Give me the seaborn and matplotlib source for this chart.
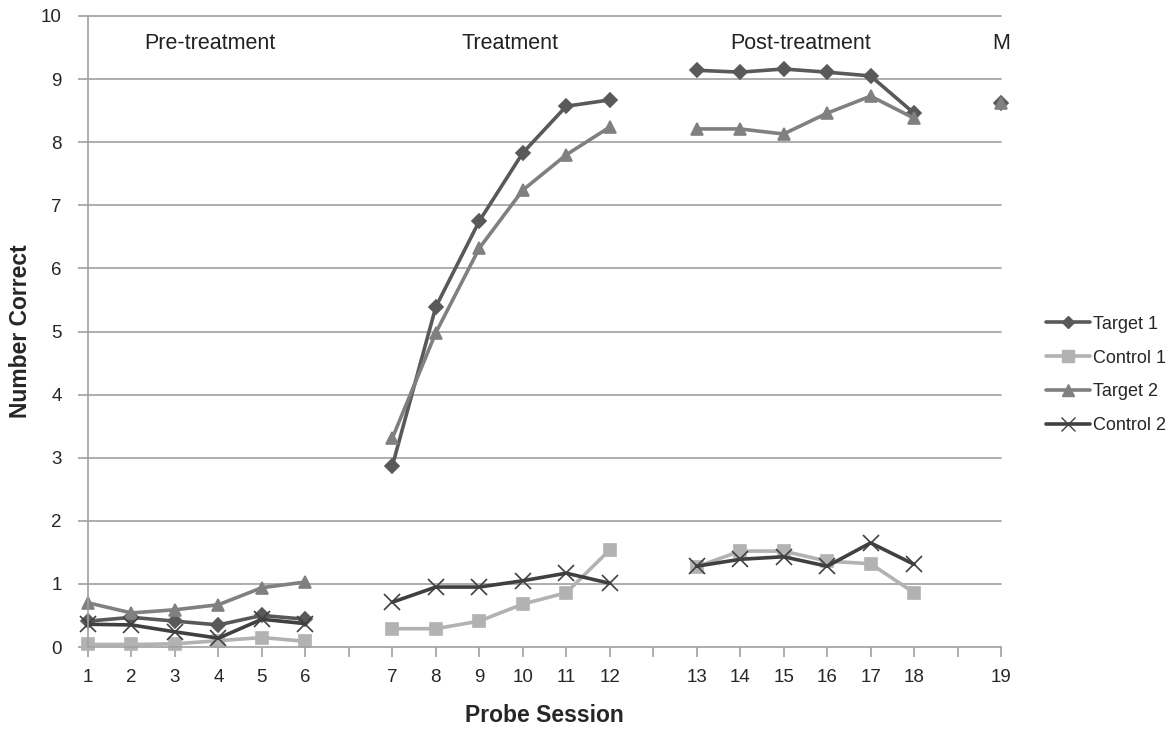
import numpy as np
import pandas as pd
import seaborn as sns
from matplotlib import pyplot as plt

# Probe sessions and phases (one empty slot between phases)
sessions = list(range(1, 20))
phases = ['Pre'] * 6 + ['Tx'] * 6 + ['Post'] * 6 + ['Maint']
phase_labels = ['Pre-treatment', 'Treatment', 'Post-treatment', 'M']

target_1 = [0.41, 0.47, 0.41, 0.35, 0.50, 0.44,
            2.87, 5.39, 6.75, 7.83, 8.57, 8.67,
            9.14, 9.11, 9.16, 9.11, 9.05, 8.46,
            8.62]
control_1 = [0.04, 0.04, 0.05, 0.10, 0.15, 0.09,
             0.29, 0.29, 0.41, 0.68, 0.86, 1.54,
             1.27, 1.52, 1.52, 1.36, 1.32, 0.86,
             np.nan]
target_2 = [0.70, 0.54, 0.59, 0.67, 0.94, 1.03,
            3.31, 4.98, 6.32, 7.24, 7.80, 8.24,
            8.21, 8.21, 8.13, 8.46, 8.73, 8.38,
            8.62]
control_2 = [0.36, 0.35, 0.24, 0.14, 0.44, 0.37,
             0.71, 0.95, 0.95, 1.05, 1.17, 1.01,
             1.28, 1.39, 1.43, 1.28, 1.65, 1.31,
             np.nan]

series = {'Target 1': target_1, 'Control 1': control_1,
          'Target 2': target_2, 'Control 2': control_2}
colors = {'Target 1': '#595959', 'Control 1': '#b2b2b2',
          'Target 2': '#808080', 'Control 2': '#404040'}
markers = {'Target 1': 'D', 'Control 1': 's', 'Target 2': '^', 'Control 2': 'x'}
msizes = {'Target 1': 7, 'Control 1': 9, 'Target 2': 9, 'Control 2': 11}

# category slot for each session (gaps after 6, 12 and 18)
phase_offset = {'Pre': 0, 'Tx': 1, 'Post': 2, 'Maint': 3}
slots = [s - 1 + phase_offset[p] for s, p in zip(sessions, phases)]

rows = []
for name, vals in series.items():
    for slot, ph, v in zip(slots, phases, vals):
        rows.append({'slot': slot, 'phase': ph, 'series': name, 'value': v})
df = pd.DataFrame(rows).dropna()

sns.set_style('white')
plt.rcParams['font.family'] = ['Liberation Sans', 'DejaVu Sans']

fig = plt.figure(figsize=(11.71, 7.31), dpi=100)
ax = fig.add_axes([88 / 1171, 1 - 647 / 731, (1001 - 88) / 1171, (647 - 16) / 731])

for y in range(1, 11):
    ax.axhline(y, color='#a0a0a0', lw=1.2, zorder=0)

for name in series:
    sub = df[df['series'] == name]
    sns.lineplot(data=sub, x='slot', y='value', units='phase', estimator=None,
                 color=colors[name], marker=markers[name], lw=2.6,
                 markersize=msizes[name], markeredgewidth=1.2,
                 markeredgecolor=colors[name], ax=ax, legend=False)
for line in ax.lines:
    line.set_clip_on(False)

ax.set_xlim(0, 21)
ax.set_ylim(0, 10)
ax.set_xticks(range(22))
labels = [''] * 22
for s, slot in zip(sessions, slots):
    labels[slot] = str(s)
ax.set_xticklabels(labels, fontsize=13.5)
ax.set_yticks(range(11))
ax.set_yticklabels([str(i) for i in range(11)], fontsize=13.5)
ax.tick_params(axis='x', length=7, width=1.2, color='#a0a0a0', direction='out', pad=9, bottom=True)
ax.tick_params(axis='y', length=7, width=1.2, color='#a0a0a0', direction='out', pad=12, left=True)

for side in ['top', 'right']:
    ax.spines[side].set_visible(False)
for side in ['left', 'bottom']:
    ax.spines[side].set_color('#a0a0a0')
    ax.spines[side].set_linewidth(1.2)

ax.set_xlabel('Probe Session', fontsize=16.5, fontweight='bold')
ax.set_ylabel('Number Correct', fontsize=16.5, fontweight='bold')
ax.xaxis.set_label_coords(0.4995, -0.090)
ax.yaxis.set_label_coords(-0.061, 0.5)

for label, x in zip(phase_labels, [2.8, 9.7, 16.4, 21.0]):
    ax.text(x, 9.57, label, ha='center', va='center', fontsize=15.5, color='#222222')

handles = [plt.Line2D([], [], color=colors[n], marker=markers[n], lw=2.6,
                      markersize=msizes[n] - 1, markeredgecolor=colors[n]) for n in series]
fig.legend(handles, list(series.keys()), loc='center left',
           bbox_to_anchor=(1030 / 1171, 1 - 375 / 731), frameon=False,
           fontsize=13, handlelength=2.4, handletextpad=0.2, labelspacing=0.93)

fig.savefig('out.png', dpi=100)
